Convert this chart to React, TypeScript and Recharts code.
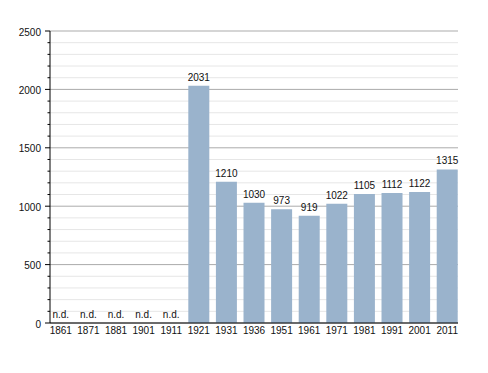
import React from "react";
import { ComposedChart, Bar, Line, XAxis, YAxis, CartesianGrid, LabelList } from "recharts";

const years = ["1861", "1871", "1881", "1901", "1911", "1921", "1931", "1936", "1951", "1961", "1971", "1981", "1991", "2001", "2011"];
const population = [null, null, null, null, null, 2031, 1210, 1030, 973, 919, 1022, 1105, 1112, 1122, 1315];
const missingMarker = [0, 0, 0, 0, 0, null, null, null, null, null, null, null, null, null, null];
const missingText = "n.d.";
const majorTicks = [0, 500, 1000, 1500, 2000, 2500];
const minorTicks = [
  100, 200, 300, 400, 600, 700, 800, 900, 1100, 1200, 1300, 1400,
  1600, 1700, 1800, 1900, 2100, 2200, 2300, 2400,
];
const allTicks = [...majorTicks, ...minorTicks].sort((a, b) => a - b);

const data = years.map((y, i) => ({
  year: y,
  value: population[i],
  missing: missingMarker[i],
  missingLabel: missingMarker[i] === null ? "" : missingText,
}));

const FONT = "'Liberation Sans', Arial, sans-serif";

const YTick = (props: any) => {
  const { x, y, payload } = props;
  const v = payload.value;
  const major = majorTicks.includes(v);
  return (
    <g>
      <line x1={x - (major ? 5 : 2.5)} x2={x} y1={y} y2={y} stroke="#000" strokeWidth={1} />
      {major && (
        <text x={x - 9} y={y} dy={4.5} textAnchor="end" fontSize={10} fontFamily={FONT} fill="#111">
          {v}
        </text>
      )}
    </g>
  );
};

export default function App() {
  return (
    <div style={{ position: "absolute", left: 0, top: 0, background: "#fff" }}>
      <ComposedChart
        width={488}
        height={373}
        data={data}
        margin={{ top: 31, right: 30, bottom: 30, left: 0 }}
        barCategoryGap="12%"
      >
        <CartesianGrid vertical={false} horizontalValues={minorTicks} stroke="#e6e6e6" />
        <CartesianGrid vertical={false} horizontalValues={majorTicks} stroke="#ababab" />
        <XAxis
          dataKey="year"
          tickLine={false}
          tickSize={0}
          tickMargin={4}
          padding={{ left: -3, right: -3 }}
          axisLine={{ stroke: "#000" }}
          tick={{ fontSize: 10, fontFamily: FONT, fill: "#111" }}
          interval={0}
          height={20}
        />
        <YAxis
          width={50}
          domain={[0, 2500]}
          ticks={allTicks}
          interval={0}
          tickLine={false}
          tickSize={0}
          tickMargin={0}
          axisLine={{ stroke: "#000" }}
          tick={<YTick />}
        />
        <Bar dataKey="value" fill="#9ab3cc" isAnimationActive={false}>
          <LabelList dataKey="value" position="top" offset={5} fontSize={10} fontFamily={FONT} fill="#111" />
        </Bar>
        <Line
          dataKey="missing"
          stroke="none"
          dot={false}
          activeDot={false}
          connectNulls={false}
          isAnimationActive={false}
        >
          <LabelList dataKey="missingLabel" position="top" offset={5} fontSize={10} fontFamily={FONT} fill="#111" />
        </Line>
      </ComposedChart>
    </div>
  );
}
